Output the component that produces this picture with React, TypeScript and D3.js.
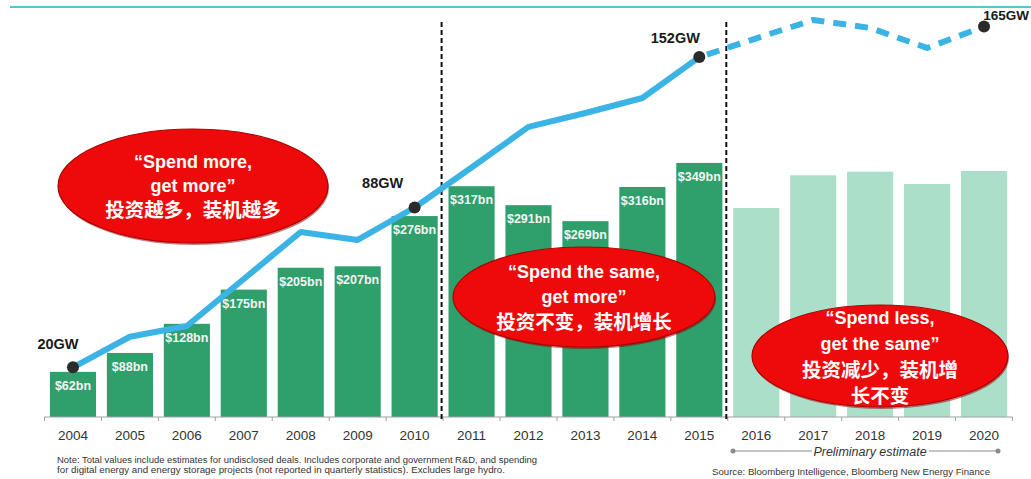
import React from "react";
import * as d3 from "d3";

const years = ["2004","2005","2006","2007","2008","2009","2010","2011","2012","2013","2014","2015","2016","2017","2018","2019","2020"];
const investment = [62, 88, 128, 175, 205, 207, 276, 317, 291, 269, 316, 349, 287, 332, 337, 320, 338];
const investmentLabels = ["$62bn","$88bn","$128bn","$175bn","$205bn","$207bn","$276bn","$317bn","$291bn","$269bn","$316bn","$349bn","","","","",""];
const isEstimate = [false,false,false,false,false,false,false,false,false,false,false,false,true,true,true,true,true];
const capacityGW = [20, 33, 37.6, 57.6, 77.6, 74.2, 88, 105, 122.3, 128.2, 134.6, 152, 160, 167.8, 164.4, 155.9, 165];
const markedYears = ["2004", "2010", "2015", "2020"];
const markedLabels = ["20GW", "88GW", "152GW", "165GW"];
const dividerAfter = ["2010", "2015"];

const bubbles = [
  { lines: ["\u201CSpend more,", "get more\u201D", "投资越多，装机越多"] },
  { lines: ["\u201CSpend the same,", "get more\u201D", "投资不变，装机增长"] },
  { lines: ["\u201CSpend less,", "get the same\u201D", "投资减少，装机增", "长不变"] },
];
const bubbleLayout = [
  { cx: 193, cy: 186, rx: 135, ry: 57, y0: 168, dy: 24 },
  { cx: 584, cy: 297, rx: 131, ry: 50, y0: 278, dy: 25 },
  { cx: 880, cy: 356, rx: 128, ry: 51, y0: 324, dy: 26 },
];

const noteLines = [
  "Note: Total values include estimates for undisclosed deals. Includes corporate and government R&D, and spending",
  "for digital energy and energy storage projects (not reported in quarterly statistics). Excludes large hydro.",
];
const sourceText = "Source: Bloomberg Intelligence, Bloomberg New Energy Finance";
const estimateText = "Preliminary estimate";

const W = 1031, H = 479;
const BASE = 417;
const FONT = "'Liberation Sans', Arial, sans-serif";
const CJK = "'Liberation Sans', 'Noto Sans CJK SC', sans-serif";
const hasCJK = (t: string) => /[\u4e00-\u9fff]/.test(t);

export default function App() {
  const x = d3.scaleBand<string>().domain(years).range([44.5, 1012.5]).paddingInner(0.19).paddingOuter(0.095);
  const yBar = d3.scaleLinear().domain([0, 400]).range([BASE, BASE - 400 * 0.728]);
  const yGW = d3.scaleLinear().domain([0, 170]).range([414.3, 414.3 - 170 * 2.35]);
  const bw = x.bandwidth();
  const step = x.step();
  const cxOf = (y: string) => (x(y) as number) + bw / 2;

  const pts = years.map((y, i) => [cxOf(y), yGW(capacityGW[i])] as [number, number]);
  const line = d3.line();
  const i15 = years.indexOf("2015");
  const solidPath = line(pts.slice(0, i15 + 1)) || "";
  const dashPath = line(pts.slice(i15)) || "";

  const labelPos: Record<string, [number, number, string]> = {
    "2004": [-15, -18, "middle"], "2010": [-32, -20, "middle"], "2015": [-24, -14, "middle"],
  };

  return (
    <svg width={W} height={H} style={{ position: "absolute", left: 0, top: 0, background: "#fff" }}>
      <line x1={10} x2={W} y1={7} y2={7} stroke="#5cc3cf" strokeWidth={2} />

      {years.map((y, i) => (
        <rect key={y} x={x(y)} y={yBar(investment[i])} width={bw} height={BASE - yBar(investment[i])}
          fill={isEstimate[i] ? "#acdfca" : "#2f9f6c"} />
      ))}
      {years.map((y, i) => investmentLabels[i] ? (
        <text key={"l" + y} x={cxOf(y)} y={yBar(investment[i]) + 18} textAnchor="middle"
          fontFamily={FONT} fontWeight="bold" fontSize={12.5} fill="#f4f4f4">{investmentLabels[i]}</text>
      ) : null)}

      <line x1={44.5} x2={1012.5} y1={BASE} y2={BASE} stroke="#a0a0a0" strokeWidth={1} />
      {d3.range(years.length + 1).map(k => (
        <line key={"t" + k} x1={44.5 + k * step} x2={44.5 + k * step} y1={BASE} y2={BASE + 4} stroke="#a0a0a0" />
      ))}
      {years.map(y => (
        <text key={"y" + y} x={cxOf(y)} y={440} textAnchor="middle" fontFamily={FONT} fontSize={13.5} fill="#333">{y}</text>
      ))}

      {dividerAfter.map(y => {
        const xx = cxOf(y) + step / 2 - 1.5;
        return <line key={"d" + y} x1={xx} x2={xx} y1={22} y2={420} stroke="#111" strokeWidth={2} strokeDasharray="5 3" />;
      })}

      <path d={solidPath} fill="none" stroke="#3bb4e5" strokeWidth={6} strokeLinejoin="round" />
      <path d={dashPath} fill="none" stroke="#3bb4e5" strokeWidth={6} strokeDasharray="13 9" strokeDashoffset={-8} strokeLinejoin="round" />

      {markedYears.map((y, k) => {
        const i = years.indexOf(y);
        const [px, py] = pts[i];
        const last = y === "2020";
        const [ox, oy, anchor] = last ? [0, -7, "end"] : labelPos[y];
        return (
          <g key={"m" + y}>
            <circle cx={px} cy={py} r={6} fill="#2b2b2b" />
            <text x={last ? W - 2 : px + ox} y={py + oy} textAnchor={anchor} fontFamily={FONT} fontWeight="bold"
              fontSize={last ? 13.5 : 14.5} fill="#1a1a1a">{markedLabels[k]}</text>
          </g>
        );
      })}

      {bubbles.map((b, k) => {
        const L = bubbleLayout[k];
        return (
          <g key={"b" + k}>
            <ellipse cx={L.cx + 1} cy={L.cy + 2} rx={L.rx} ry={L.ry} fill="#8a0000" opacity={0.5} />
            <ellipse cx={L.cx} cy={L.cy} rx={L.rx} ry={L.ry} fill="#ee0a0a" stroke="#b00000" strokeWidth={1.2} />
            {b.lines.map((t, j) => (
              <text key={j} x={L.cx} y={L.y0 + j * L.dy + (hasCJK(t) ? 1 : 0)} textAnchor="middle" fontFamily={CJK} fontWeight="bold"
                fontSize={hasCJK(t) ? 19.5 : 18} fill="#fff">{t}</text>
            ))}
          </g>
        );
      })}

      <line x1={733} x2={812} y1={451} y2={451} stroke="#8a8a8a" strokeWidth={1} />
      <line x1={929} x2={998} y1={451} y2={451} stroke="#8a8a8a" strokeWidth={1} />
      <circle cx={733} cy={451} r={2.5} fill="#8a8a8a" />
      <circle cx={998} cy={451} r={2.5} fill="#8a8a8a" />
      <text x={870} y={455.5} textAnchor="middle" fontFamily={FONT} fontStyle="italic" fontSize={12.5} fill="#333">{estimateText}</text>

      {noteLines.map((t, j) => (
        <text key={"n" + j} x={57} y={463 + j * 10} fontFamily={FONT} fontSize={8.3} fill="#333"
          textLength={j === 0 ? 480 : 448} lengthAdjust="spacingAndGlyphs">{t}</text>
      ))}
      <text x={712} y={475} fontFamily={FONT} fontSize={8.3} fill="#333" textLength={278} lengthAdjust="spacingAndGlyphs">{sourceText}</text>
    </svg>
  );
}
